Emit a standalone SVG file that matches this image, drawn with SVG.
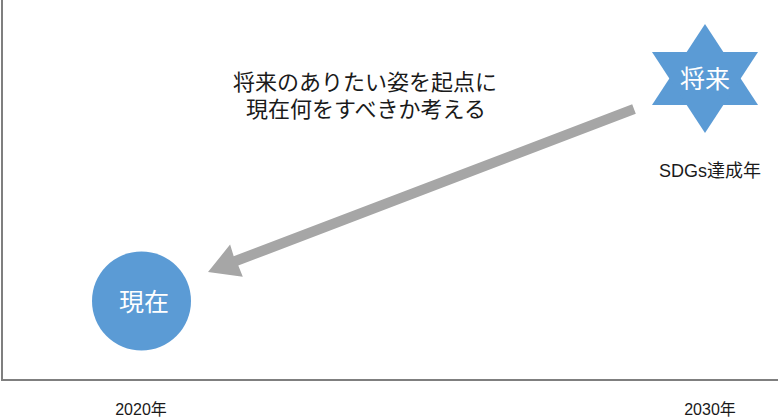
<svg xmlns="http://www.w3.org/2000/svg" width="780" height="419" viewBox="0 0 780 419">
<style>
text{font-family:"Liberation Sans","Noto Sans CJK JP",sans-serif;text-anchor:middle;}
.lbl{fill:#1a1a1a;}
.inner{fill:#ffffff;font-size:25px;}
.shape{fill:#5B9BD5;}
.axis{stroke:#7f7f7f;stroke-width:2;fill:none;}
</style>
<rect width="780" height="419" fill="#ffffff"/>
<g id="axes">
<polyline class="axis" points="2,0 2,380 778,380"/>
</g>
<g id="connectors">
<polygon fill="#A6A6A6" points="635.8,113.7 238.3,265.6 242.8,276.8 208,272 230.1,244.6 233.7,256.2 632.2,104.3"/>
</g>
<g id="node-future">
<polygon class="shape" points="705,24 758,105 652,105"/>
<polygon class="shape" points="705,133 758,52 652,52"/>
<text class="inner" x="705" y="88">将来</text>
</g>
<g id="node-now">
<circle class="shape" cx="141.5" cy="301" r="49.5"/>
<text class="inner" x="144" y="311">現在</text>
</g>
<g id="labels">
<text class="lbl" x="365" y="90" font-size="22">将来のありたい姿を起点に</text>
<text class="lbl" x="366" y="117" font-size="22">現在何をすべきか考える</text>
<text class="lbl" x="710" y="177" font-size="18">SDGs達成年</text>
<text class="lbl" x="141" y="415" font-size="16">2020年</text>
<text class="lbl" x="710" y="415" font-size="16">2030年</text>
</g>
</svg>
